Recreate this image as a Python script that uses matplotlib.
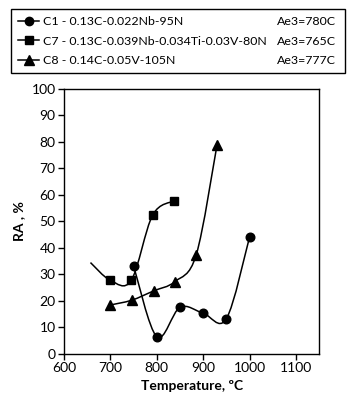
import matplotlib
matplotlib.use("Agg")
import matplotlib.pyplot as plt
from matplotlib.path import Path
from matplotlib.patches import PathPatch
from matplotlib.lines import Line2D
import numpy as np

plt.rcParams['font.family'] = ['Lato', 'DejaVu Sans']

# Data
c1_temp = [750, 800, 850, 900, 950, 1000]
c1_ra = [33.2, 6.5, 17.6, 15.4, 13.3, 44.1]

c7_temp = [657, 700, 745, 791, 838]
c7_ra = [34.5, 27.8, 27.8, 52.4, 57.8]

c8_temp = [700, 746, 793, 839, 885, 930]
c8_ra = [18.5, 20.3, 23.8, 27.3, 37.4, 79.0]

labels = ["C1 - 0.13C-0.022Nb-95N",
          "C7 - 0.13C-0.039Nb-0.034Ti-0.03V-80N",
          "C8 - 0.14C-0.05V-105N"]
ae3_labels = ["Ae3=780C", "Ae3=765C", "Ae3=777C"]

x_ticks = [600, 700, 800, 900, 1000, 1100]
y_ticks = [0, 10, 20, 30, 40, 50, 60, 70, 80, 90, 100]


def smooth_path(xs, ys):
    """Excel-like smoothed line as cubic Bezier path (Catmull-Rom control points)."""
    p = np.column_stack([xs, ys]).astype(float)
    n = len(p)
    verts = [p[0]]
    codes = [Path.MOVETO]
    for i in range(n - 1):
        p0 = p[i - 1] if i > 0 else p[i]
        p1 = p[i]
        p2 = p[i + 1]
        p3 = p[i + 2] if i + 2 < n else p[i + 1]
        c1 = p1 + (p2 - p0) / 6.0
        c2 = p2 - (p3 - p1) / 6.0
        verts += [c1, c2, p2]
        codes += [Path.CURVE4] * 3
    return Path(verts, codes)


fig = plt.figure(figsize=(3.48, 4.04), dpi=100)
ax = fig.add_axes([0.184, 0.1238, 0.733, 0.6559])

for xs, ys in [(c1_temp, c1_ra), (c7_temp, c7_ra), (c8_temp, c8_ra)]:
    ax.add_patch(PathPatch(smooth_path(xs, ys), facecolor='none',
                           edgecolor='black', lw=1.1, zorder=2))

ax.plot(c1_temp, c1_ra, ls='none', marker='o', ms=6.2, color='black', zorder=3)
ax.plot(c7_temp[1:], c7_ra[1:], ls='none', marker='s', ms=5.3, color='black', zorder=3)
ax.plot(c8_temp, c8_ra, ls='none', marker='^', ms=6.8, color='black', zorder=3)

ax.set_xlim(600, 1150)
ax.set_ylim(0, 100)
ax.set_xticks(x_ticks)
ax.set_yticks(y_ticks)
ax.tick_params(direction='out', length=4, width=1, labelsize=10, pad=2,
               colors='black')
for s in ax.spines.values():
    s.set_linewidth(1)
ax.set_xlabel("Temperature, ºC", fontsize=10, fontweight='bold', labelpad=4)
ax.set_ylabel("RA , %", fontsize=10, fontweight='bold', labelpad=5)

handles = [Line2D([], [], color='black', lw=1.1, marker='o', ms=6),
           Line2D([], [], color='black', lw=1.1, marker='s', ms=5.3),
           Line2D([], [], color='black', lw=1.1, marker='^', ms=6.5)]
leg = fig.legend(handles, labels, loc='upper left',
                 bbox_to_anchor=(11 / 348, 1 - 9 / 404, 334 / 348, 0.0),
                 mode='expand', fontsize=8.9, frameon=True, fancybox=False,
                 edgecolor='black', framealpha=1, handlelength=1.7,
                 handletextpad=0.3, labelspacing=0.68, borderpad=0.58,
                 borderaxespad=0)
leg.get_frame().set_linewidth(1)

fig.canvas.draw()
inv = fig.transFigure.inverted()
for t, a in zip(leg.get_texts(), ae3_labels):
    bb = t.get_window_extent()
    yc = inv.transform(((bb.x0 + bb.x1) / 2, (bb.y0 + bb.y1) / 2))[1]
    fig.text(336 / 348, yc, a, ha='right', va='center', fontsize=8.9,
             zorder=10)

fig.savefig("out.png", dpi=100)
